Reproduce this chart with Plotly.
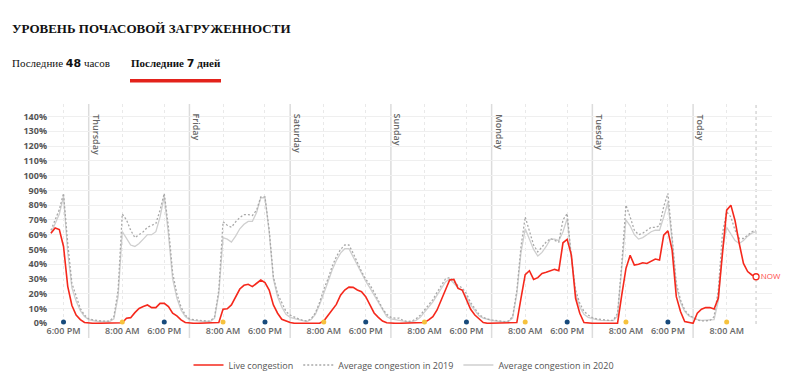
import plotly.graph_objects as go

# hours relative to Thursday 00:00 (Wed 15:00 -> Today 15:00)
hours = list(range(-9, 160))

live = [
    # Wed -9..-1
    61, 64.5, 63.5, 52, 25, 12, 5.5, 2.5, 0.5,
    # Thu 0..23
    0, 0, 0, 0, 0, 0, 0, 0, 0.3, 3.4, 3.8, 7.2, 10, 11.3, 12.4, 10.6, 10.6, 13.5, 13.5, 11.3, 6.8, 5, 2.3, 0.5,
    # Fri 24..47
    0, 0, 0, 0, 0, 0, 0, 0.5, 9.5, 9.8, 12.4, 18, 23.2, 25.7, 26.4, 24.8, 27, 29.3, 27.5, 22.5, 12.4, 6.8, 2.7, 1.6,
    # Sat 48..71
    0.5, 0, 0, 0, 0, 0, 0, 0, 1.5, 5.5, 9, 12.8, 19, 22.5, 24.5, 24.3, 22.5, 21.4, 18, 13, 7, 4, 1.5, 0.3,
    # Sun 72..95
    0, 0, 0, 0, 0, 0, 0, 0, 0.5, 2.3, 4.5, 9, 15.8, 22.5, 29.3, 29.7, 23.6, 22.5, 15.8, 9.5, 5.6, 2.7, 0.5, 0,
    # Mon 96..119
    0, 0, 0, 0, 0, 0, 0.5, 17, 33, 35.6, 29.7, 30.9, 33.8, 34.5, 35.4, 36.5, 35.6, 54.5, 56.8, 46.2, 16.9, 6.8, 0.5, 0,
    # Tue 120..143
    0, 0, 0, 0, 0, 0, 0, 19, 37, 46, 39.4, 40, 41, 40.5, 42.3, 43.5, 42.8, 59.7, 62.6, 49.5, 18, 8, 1.1, 0.5,
    # Today 144..159
    0, 6.8, 9.5, 10.6, 10.6, 9.7, 16.9, 47.3, 76.6, 80, 69.4, 54, 40.5, 35, 32.7, 31.5,
]

avg2019 = [
    63, 70, 77, 88, 54, 27, 18, 10, 5.5,
    3, 2.3, 1.8, 1.5, 1.5, 1.5, 4.5, 22.5, 74, 70, 63, 58, 60, 62, 65, 66.4, 67.6, 76.6, 88, 65, 34, 20, 11, 5.6,
    3, 2.5, 2, 1.8, 1.5, 1.5, 4.5, 22.5, 68.7, 66.4, 65, 68.7, 71.6, 73.6, 73.6, 73, 76.6, 85.6, 85.6, 63, 31.5, 20, 13.5, 8,
    5.5, 4, 3, 2, 1.5, 3, 7, 14, 23, 30, 38.5, 45, 50, 53, 53, 47.5, 41, 35, 30, 26, 21, 15, 10, 6,
    4, 3.5, 3.5, 1.8, 1.1, 1.5, 3, 5.5, 9, 12.5, 16, 21, 25.5, 30, 31, 28, 25.5, 24, 20, 14, 10, 6, 4, 2.8,
    2.3, 1.8, 1.2, 1.1, 1.5, 4.5, 22, 52, 72, 63, 53, 48.4, 51.8, 55, 57.4, 56, 55, 70, 74.3, 45, 22.5, 13.5, 8, 5.6,
    3.8, 3, 2.5, 2, 2, 2, 6.8, 40, 80, 72, 63, 60, 61, 63, 65, 65, 66, 79, 88, 58.5, 27, 15.8, 9, 5.6,
    4, 2.3, 1.6, 1.5, 1.8, 4.5, 22.5, 61, 75.5, 72, 63, 57.4, 57.4, 59.7, 62, 63,
]

avg2020 = [
    61, 67, 74, 86, 48, 24, 15, 8.5, 4.5,
    2.5, 1.8, 1.2, 1.2, 1.2, 1.2, 3, 18, 62, 57, 53, 52, 54, 57, 60, 60, 62, 72, 86, 60, 30, 17, 9, 4.5,
    2.5, 2, 1.5, 1.3, 1.2, 1.2, 3.5, 20, 58, 57, 55, 59, 64, 67, 69, 69, 75, 85, 85, 62, 30, 18, 11, 6,
    4, 3, 2.5, 1.8, 1.2, 2.5, 6, 12.5, 21, 28, 36, 42.5, 47.5, 50.5, 50.5, 45, 39, 33.5, 28.5, 24, 19, 13.5, 8.5, 4.5,
    3, 2.5, 2, 1.2, 1, 1, 2, 4, 7.5, 11, 14.5, 19, 23.5, 28, 30, 27, 24, 22, 18, 12.5, 8.5, 5, 3.5, 2.5,
    2, 1.5, 1.2, 1, 1.2, 3.5, 20, 48, 64, 57, 50, 45.5, 48, 52, 57, 57, 56, 62, 71, 44, 20, 11, 6, 4,
    3, 2.5, 2, 1.8, 1.8, 1.8, 5, 35, 70, 66, 60, 57, 58, 60, 62, 63, 63, 72, 82, 56, 25, 14, 8, 5,
    3.5, 2.5, 2, 2, 2, 2.5, 15, 50, 65, 60, 56, 54, 56, 59, 61, 62,
]

day_names = ["Thursday", "Friday", "Saturday", "Sunday", "Monday", "Tuesday", "Today"]
day_starts = [0, 24, 48, 72, 96, 120, 144]
evening_ticks = [-6, 18, 42, 66, 90, 114, 138]   # 6:00 PM
morning_ticks = [8, 32, 56, 80, 104, 128, 152]   # 8:00 AM
y_ticks = list(range(0, 150, 10))
y_ticktext = [f"{v}%" for v in y_ticks]

# the page body has an 8px margin; work in page pixels and convert
OFF = 8
W, H = 807 - OFF, 386 - OFF
L, R, T, B = 48, 772, 104, 324          # plot area in page pixels
pw, ph = R - L, B - T


def px(xp):
    return (xp - L) / pw


def py(yp):
    return (B - yp) / ph


fig = go.Figure()

fig.add_trace(go.Scatter(x=hours, y=avg2020, mode="lines", name="Average congestion in 2020",
                         line=dict(color="#cfcfcf", width=1.3), hoverinfo="skip"))
fig.add_trace(go.Scatter(x=hours, y=avg2019, mode="lines", name="Average congestion in 2019",
                         line=dict(color="#a9a9a9", width=1.3, dash="2px,2px"), hoverinfo="skip"))
fig.add_trace(go.Scatter(x=hours, y=live, mode="lines", name="Live congestion",
                         line=dict(color="#f5281c", width=1.6), hoverinfo="skip"))

# axis dots
fig.add_trace(go.Scatter(x=evening_ticks, y=[0.8] * len(evening_ticks), mode="markers",
                         marker=dict(color="#174a7c", size=5), showlegend=False, cliponaxis=False,
                         hoverinfo="skip"))
fig.add_trace(go.Scatter(x=morning_ticks, y=[0.8] * len(morning_ticks), mode="markers",
                         marker=dict(color="#f6c23e", size=5), showlegend=False, cliponaxis=False,
                         hoverinfo="skip"))

# NOW marker
fig.add_trace(go.Scatter(x=[hours[-1]], y=[live[-1]], mode="markers+text", text=["NOW"],
                         textposition="middle right",
                         textfont=dict(color="#ff4a4a", size=8, family="Open Sans"),
                         marker=dict(color="white", size=6, line=dict(color="#f5281c", width=1.3)),
                         showlegend=False, cliponaxis=False, hoverinfo="skip"))

shapes = []
annotations = []
for name, d in zip(day_names, day_starts):
    shapes.append(dict(type="line", xref="x", yref="paper", x0=d, x1=d, y0=py(338), y1=1,
                       line=dict(color="#dcdcdc", width=1.5), layer="below"))
    annotations.append(dict(text=name, xref="x", yref="paper", x=d, y=py(112),
                            xanchor="left", yanchor="top", xshift=-1, textangle=90, showarrow=False,
                            font=dict(family="Open Sans", size=9, color="#666", weight=600)))

shapes.append(dict(type="line", xref="x", yref="paper", x0=hours[-1], x1=hours[-1], y0=0, y1=1,
                   line=dict(color="#cccccc", width=1.2, dash="dot"), layer="below"))

# red tab underline
shapes.append(dict(type="rect", xref="paper", yref="paper", x0=px(130), x1=px(221),
                   y0=py(82.5), y1=py(79), fillcolor="#e3221b", line=dict(width=0)))

annotations.append(dict(text="<b>УРОВЕНЬ ПОЧАСОВОЙ ЗАГРУЖЕННОСТИ</b>", xref="paper", yref="paper",
                        x=px(10), y=py(28), xanchor="left", yanchor="middle", showarrow=False,
                        font=dict(family="Liberation Serif", size=13, color="#111")))
annotations.append(dict(text="Последние <span style='font-family:DejaVu Sans'><b>48</b></span> часов",
                        xref="paper", yref="paper", x=px(10), y=py(64), xanchor="left",
                        yanchor="middle", showarrow=False,
                        font=dict(family="Liberation Serif", size=11, color="#111")))
annotations.append(dict(text="<b>Последние <span style='font-family:DejaVu Sans'>7</span> дней</b>",
                        xref="paper", yref="paper", x=px(129), y=py(64), xanchor="left",
                        yanchor="middle", showarrow=False,
                        font=dict(family="Liberation Serif", size=11, color="#111")))

tickvals = sorted(evening_ticks + morning_ticks)
ticktext = ["6:00 PM" if t in evening_ticks else "8:00 AM" for t in tickvals]

fig.update_layout(
    width=W, height=H,
    margin=dict(l=L - OFF, r=(807 - R), t=T - OFF, b=(386 - B), autoexpand=False),
    paper_bgcolor="white", plot_bgcolor="white",
    showlegend=True,
    legend=dict(orientation="h", xref="container", yref="container",
                x=(404 - OFF) / W, xanchor="center", y=(386 - 365) / H, yanchor="middle",
                font=dict(family="Open Sans", size=9, color="#555"), traceorder="reversed"),
    xaxis=dict(range=[-9.7, 162.8], tickvals=tickvals, ticktext=ticktext, showgrid=True,
               gridcolor="#e9e9e9", griddash="dot", gridwidth=1, zeroline=False, showline=False,
               ticks="", tickfont=dict(family="Open Sans", size=9, color="#666", weight=600)),
    yaxis=dict(range=[-0.5, 148.5], tickvals=y_ticks, ticktext=y_ticktext, showgrid=True,
               gridcolor="#efefef", gridwidth=1, zeroline=False, showline=False, ticks="",
               tickfont=dict(family="Open Sans", size=9, color="#555", weight=700)),
    shapes=shapes, annotations=annotations,
)

fig.write_html("out.html")
